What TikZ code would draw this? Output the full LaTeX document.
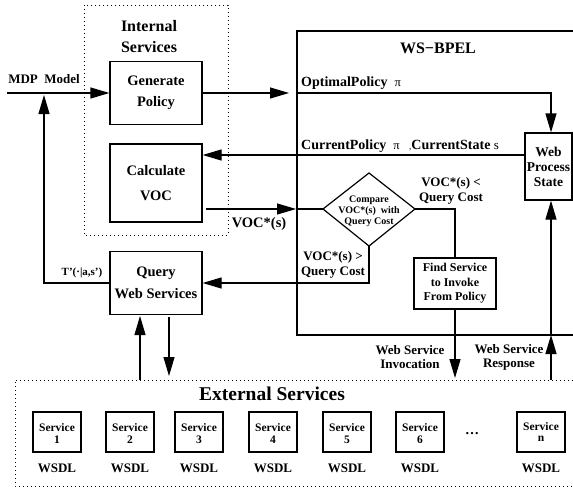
\documentclass[tikz,border=0pt]{standalone}
\usepackage{fontspec}
\setmainfont{Liberation Serif}
\usetikzlibrary{arrows.meta}
\newcommand{\myfs}[2]{\fontsize{#1}{#2}\selectfont}
\begin{document}
\begin{tikzpicture}[x=1pt,y=-1pt,
  arr/.style={-{Triangle[length=19pt,width=11pt]}, line width=1.2pt},
  ln/.style={line width=1.2pt},
  box/.style={draw, line width=1.2pt, inner sep=0pt, align=center},
  dot/.style={line width=0.9pt, dash pattern=on 0.9pt off 3.1pt},
  lbl/.style={inner sep=0pt, align=center},
  svc/.style={draw, line width=1.2pt, minimum width=48pt, minimum height=40pt, inner sep=0pt, align=center, font=\bfseries\myfs{11.5}{11.5}},
]
\useasboundingbox (0,0) rectangle (573,487);

% dotted groups
\draw[dot] (84,5) rectangle (228,235);
\draw[dot] (573,380) -- (15,380) -- (15,486) -- (573,486);
% WS-BPEL frame
\draw[ln] (573,31) -- (297,31) -- (297,335) -- (573,335);

% internal services
\node[lbl, font=\bfseries\myfs{16}{21}] (intl) at (149,37) {Internal\\Services};
\node[box, minimum width=92pt, minimum height=63pt, font=\bfseries\myfs{14.5}{21}] (gen) at (156,93) {Generate\\Policy};
\node[box, minimum width=92pt, minimum height=78pt, font=\bfseries\myfs{14.5}{25}] (calc) at (156,183) {Calculate\\VOC};
\node[box, minimum width=92pt, minimum height=63pt, font=\bfseries\myfs{14.5}{22}] (qws) at (156,283) {Query\\Web Services};

% WS-BPEL contents
\node[lbl, font=\bfseries\myfs{16}{19}] (bpel) at (438,48) {WS−BPEL};
\node[box, minimum width=47pt, minimum height=67pt, font=\bfseries\myfs{13.5}{15}] (wps) at (548.5,166.5) {Web\\Process\\State};
\node[lbl, anchor=base west, font=\bfseries\myfs{14}{16}] (opt) at (301,86) {OptimalPolicy\ \ {\mdseries\myfs{12.5}{14}π}};
\node[lbl, anchor=base west, font=\bfseries\myfs{14}{16}] (cur) at (301,149) {CurrentPolicy\ \ {\mdseries\myfs{12.5}{14}π\ \ \ {\myfs{9}{10},}}CurrentState\ {\mdseries\myfs{13}{14}s}};

\coordinate (dl) at (323,209);
\coordinate (dt) at (369,173);
\coordinate (dr) at (415,209);
\coordinate (db) at (369,246);
\draw[ln] (dl) -- (dt) -- (dr) -- (db) -- cycle;
\node[lbl, font=\bfseries\myfs{10}{11}] (cmp) at (369,211) {Compare\\VOC*(s)\ \ with\\Query Cost};
\node[box, minimum width=82pt, minimum height=51pt, font=\bfseries\myfs{12}{14.5}] (find) at (455,283.5) {Find Service\\to Invoke\\From Policy};

% labels
\node[lbl, font=\bfseries\myfs{13}{15}] (mdp) at (44,79) {MDP\ \ Model};
\node[lbl, font=\bfseries\myfs{14.5}{16}] (vocs) at (259,224) {VOC*(s)};
\node[lbl, font=\bfseries\myfs{13}{15.5}] (lt) at (451,191) {VOC*(s) <\\Query Cost};
\node[lbl, font=\bfseries\myfs{13}{15.5}] (gt) at (333,265) {VOC*(s) >\\Query Cost};
\node[lbl, font=\bfseries\myfs{11}{13}] (tp) at (82,273) {T’(·|a,s’)};
\node[lbl, font=\bfseries\myfs{13}{14}] (inv) at (410,357) {Web Service\\Invocation};
\node[lbl, font=\bfseries\myfs{13}{14}] (resp) at (509,357) {Web Service\\Response};

% external services
\node[lbl, font=\bfseries\myfs{19.5}{22}] (ext) at (272,394) {External Services};
\foreach \x/\n in {57/1,130/2,199/3,273/4,347/5,420/6} {
  \node[svc] (s\n) at (\x,432) {\rule{0pt}{11pt}Service\\\n};
  \node[lbl, font=\bfseries\myfs{13}{15}] (w\n) at (\x,468) {WSDL};
}
\node[svc] (sn) at (541,432) {Service\\n};
\node[lbl, font=\bfseries\myfs{13}{15}] (wn) at (541,468) {WSDL};
\node[lbl, font=\bfseries\myfs{14}{16}] (dots) at (472,434) {…};

% connectors
\coordinate (mdpS) at (7,93);
\draw[arr] (mdpS) -- (gen.west);
\coordinate (bpelA) at (289,93);
\draw[arr] (gen.east) -- (bpelA);
\coordinate (bpelB) at (297,93);
\coordinate (rx) at (551,335);
\draw[arr] (bpelB) -- (rx |- bpelB) -- (rx |- wps.north);
\coordinate (cpy) at (0,155);
\draw[arr] (wps.west |- cpy) -- (calc.east |- cpy);
\coordinate (va0) at (206,209);
\coordinate (va) at (296,209);
\coordinate (vb) at (297,209);
\draw[arr] (va0) -- (va);
\draw[ln] (vb) -- (dl);
\draw[ln] (dr) -- (find.north |- dr) -- (find.north);
\draw[arr] (db) -- (db |- qws.east) -- (qws.east);
\coordinate (fb) at (44,95);
\draw[arr] (qws.west) -- (fb |- qws.west) -- (fb);
\coordinate (u1) at (140,380);
\coordinate (u2) at (140,316);
\draw[arr] (u1) -- (u2);
\coordinate (d1) at (169,317);
\coordinate (d2) at (169,376);
\draw[arr] (d1) -- (d2);
\coordinate (fi) at (455,378);
\draw[arr] (find.south) -- (fi);
\coordinate (r1) at (551,380);
\draw[arr] (r1) -- (rx);
\draw[arr] (rx) -- (rx |- wps.south);
\end{tikzpicture}
\end{document}
